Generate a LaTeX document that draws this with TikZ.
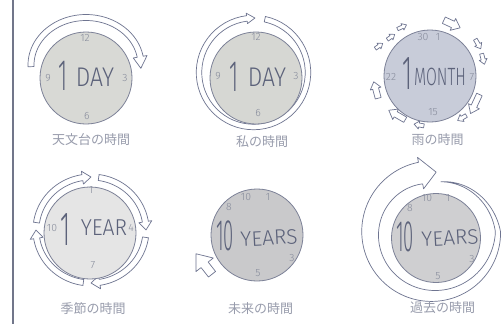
\documentclass[tikz,border=0pt]{standalone}
\usepackage{fontspec}
\usepackage{graphicx}
\newfontfamily\cjk{Noto Sans CJK JP}
\newfontfamily\handfont{Fira Sans Light}
\definecolor{arrowc}{HTML}{6E7490}
\definecolor{facec}{HTML}{7C8197}
\definecolor{barc}{HTML}{71768A}
\definecolor{numc}{HTML}{868B9B}
\definecolor{handc}{HTML}{5C627A}
\definecolor{labc}{HTML}{989CAC}
\definecolor{fillA}{HTML}{D8D9D5}
\definecolor{fillB}{HTML}{D6D7D3}
\definecolor{fillC}{HTML}{C8CCD9}
\definecolor{fillD}{HTML}{E5E5E5}
\definecolor{fillE}{HTML}{C9C9CB}
\definecolor{fillF}{HTML}{CFCFD1}
\tikzset{
  arrowline/.style={draw=arrowc, fill=white, line width=0.7pt, line join=round},
  face/.style={circle, draw=facec, line width=0.8pt, inner sep=0pt, minimum size=92pt},
  num/.style={text=numc, inner sep=0pt, font=\handfont\fontsize{10.5}{10.5}\selectfont},
  hand/.style={text=handc, inner sep=0pt, font=\handfont},
  lab/.style={text=labc, inner sep=0pt, font=\cjk\fontsize{13}{13}\selectfont},
}
% cx cy rx ry a1 a2(head base) atip width barb
\newcommand{\ringarrow}[9]{%
  \filldraw[arrowline] plot[domain=#5:#6, samples=60, variable=\t] ({#1+(#3+#8/2)*cos(\t)},{#2-(#4+#8/2)*sin(\t)})
   -- ({#1+(#3+#8/2+#9)*cos(#6)},{#2-(#4+#8/2+#9)*sin(#6)})
   -- ({#1+#3*cos(#7)},{#2-#4*sin(#7)})
   -- ({#1+(#3-#8/2-#9)*cos(#6)},{#2-(#4-#8/2-#9)*sin(#6)})
   -- plot[domain=#6:#5, samples=60, variable=\t] ({#1+(#3-#8/2)*cos(\t)},{#2-(#4-#8/2)*sin(\t)}) -- cycle;}
% x y angle length shaftwidth headwidth headlength
\newcommand{\blockarrow}[7]{%
  \begin{scope}[shift={(#1,#2)}, rotate=#3]
  \filldraw[arrowline] ({-#4/2},{-#5/2}) -- ({#4/2-#7},{-#5/2}) -- ({#4/2-#7},{-#6/2}) -- ({#4/2},0)
     -- ({#4/2-#7},{#6/2}) -- ({#4/2-#7},{#5/2}) -- ({-#4/2},{#5/2}) -- cycle;
  \end{scope}}
\newcommand{\htxt}[3]{\fontsize{#1}{#1}\selectfont\scalebox{#2}[1]{#3}}
\begin{document}
\begin{tikzpicture}[x=1pt, y=-1pt,
  declare function={spm(\t)=66-15*max(\t,0)/80+6*min(\t,0)/260; spw(\t)=22*(80-\t)/340;}]
\useasboundingbox (0,0) rectangle (503,324);
\fill[white] (0,0) rectangle (503,324);
% left bar
\coordinate (bartop) at (12.5,0);
\coordinate (barbot) at (12.5,324);
\draw[barc, line width=2pt] (bartop) -- (barbot);

% ---------- panel 1 : 1 DAY (observatory)
\ringarrow{86}{65}{55}{47.5}{182}{10}{-4}{6}{4}
\node[face, fill=fillA] (c1) at (86,78) {};
\node[num] (c1n12) at (85,38) {12};
\node[num] (c1n9) at (48,78) {9};
\node[num] (c1n3) at (125,78) {3};
\node[num] (c1n6) at (87,116) {6};
\node[hand] (c1one) at (63,76) {\htxt{44}{0.5}{1}};
\node[hand] (c1txt) at (95,77) {\htxt{27}{0.85}{DAY}};
\node[lab] (l1) at (91,140) {天文台の時間};

% ---------- panel 2 : 1 DAY (mine)
\ringarrow{253.5}{72.5}{54.5}{54.5}{78}{-263}{-271.5}{5.5}{2.5}
\node[face, fill=fillB] (c2) at (256,78) {};
\node[num] (c2n12) at (256,37) {12};
\node[num] (c2n9) at (218,76) {9};
\node[num] (c2n3) at (296,76) {3};
\node[num] (c2n6) at (258,113) {6};
\node[hand] (c2one) at (234,77) {\htxt{44}{0.5}{1}};
\node[hand] (c2txt) at (267,77) {\htxt{27}{0.85}{DAY}};
\node[lab] (l2) at (262,141.5) {私の時間};

% ---------- panel 3 : 1 MONTH
\blockarrow{452}{24}{-25}{18}{7}{13}{8}
\blockarrow{478}{44}{-60}{11}{4}{8}{5}
\blockarrow{483}{59}{-75}{11}{4}{8}{5}
\blockarrow{475}{104}{-115}{21}{6}{12}{8}
\blockarrow{462}{118}{-150}{10}{4}{8}{5}
\blockarrow{419}{125}{170}{10}{4}{8}{5}
\blockarrow{397}{115}{150}{19}{6}{12}{8}
\blockarrow{376}{90}{105}{17}{6}{11}{7}
\blockarrow{379}{46}{35}{9}{3.5}{7}{4.5}
\blockarrow{391}{37}{35}{9}{3.5}{7}{4.5}
\blockarrow{402}{27}{25}{10}{3.5}{7}{4.5}
\node[face, fill=fillC] (c3) at (430,76) {};
\node[num] (c3n30) at (423,37) {30};
\node[num] (c3n1) at (438,37) {1};
\node[num] (c3n22) at (391,77) {22};
\node[num] (c3n7) at (472,77) {7};
\node[num] (c3n15) at (433,112) {15};
\node[hand] (c3one) at (407,74) {\htxt{48}{0.5}{1}};
\node[hand] (c3txt) at (440,77) {\htxt{25}{0.63}{MONTH}};
\node[lab] (l3) at (437.5,140) {雨の時間};

% ---------- panel 4 : 1 YEAR
\ringarrow{91}{230}{55}{53}{172}{99}{90}{6}{3.5}
\ringarrow{91}{230}{55}{53}{82}{9}{0}{6}{3.5}
\ringarrow{91}{230}{55}{53}{-8}{-81}{-90}{6}{3.5}
\ringarrow{91}{230}{55}{53}{-98}{-171}{-180}{6}{3.5}
\node[face, fill=fillD] (c4) at (90,233) {};
\node[num] (c4n1) at (91,190) {1};
\node[num] (c4n10) at (52,228) {10};
\node[num] (c4n4) at (131,228) {4};
\node[num] (c4n7) at (93,265) {7};
\node[hand] (c4one) at (65,230) {\htxt{48}{0.5}{1}};
\node[hand] (c4txt) at (104,228) {\htxt{23}{0.92}{YEAR}};
\node[lab] (l4) at (93,309) {季節の時間};

% ---------- panel 5 : 10 YEARS (future)
\blockarrow{204}{264}{128}{26}{9}{22}{14}
\node[face, fill=fillE] (c5) at (257,235) {};
\node[num] (c5n10) at (246,197) {10};
\node[num] (c5n1) at (268,197) {1};
\node[num] (c5n8) at (229,207) {8};
\node[num] (c5n3) at (292,258) {3};
\node[num] (c5n5) at (258,273) {5};
\node[hand] (c5ten) at (225,236) {\htxt{44}{0.42}{10}};
\node[hand, rotate=3] (c5txt) at (269,238) {\htxt{21}{1}{YEARS}};
\node[lab] (l5) at (260.5,308.5) {未来の時間};

% ---------- panel 6 : 10 YEARS (past)
\filldraw[arrowline] plot[domain=80:-259, samples=150, variable=\t] ({432+(spm(\t)+spw(\t)/2)*cos(\t)},{232-(spm(\t)+spw(\t)/2)*sin(\t)})
  -- ({432+76*cos(-259)},{232-76*sin(-259)})
  -- ({432+60*cos(-274)},{232-60*sin(-274)})
  -- ({432+44*cos(-259)},{232-44*sin(-259)})
  -- plot[domain=-259:80, samples=150, variable=\t] ({432+(spm(\t)-spw(\t)/2)*cos(\t)},{232-(spm(\t)-spw(\t)/2)*sin(\t)}) -- cycle;
\node[face, fill=fillF, minimum size=89pt] (c6) at (436,238) {};
\node[num] (c6n10) at (427,198) {10};
\node[num] (c6n1) at (448,198) {1};
\node[num] (c6n8) at (410,208) {8};
\node[num] (c6n3) at (472,259) {3};
\node[num] (c6n5) at (438,276) {5};
\node[hand] (c6ten) at (405,237) {\htxt{44}{0.42}{10}};
\node[hand, rotate=3] (c6txt) at (450,238) {\htxt{21}{1}{YEARS}};
\node[lab] (l6) at (442.5,308) {過去の時間};
\end{tikzpicture}
\end{document}
